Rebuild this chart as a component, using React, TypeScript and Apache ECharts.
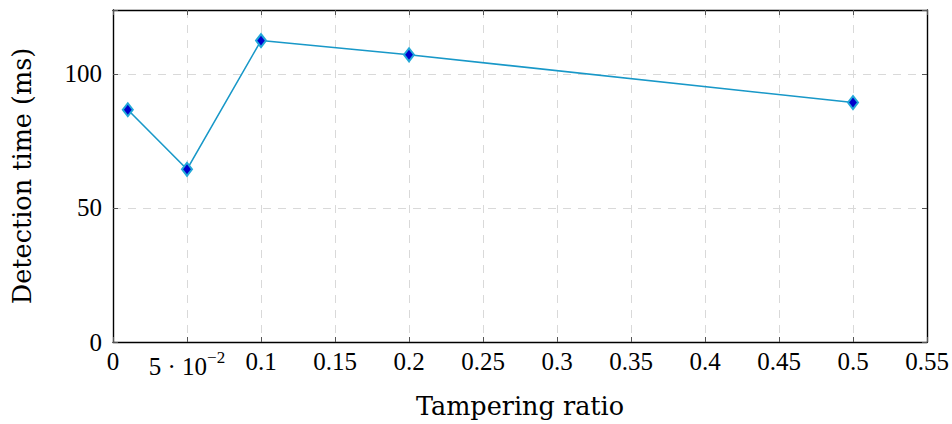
import React, { useEffect, useRef } from "react";
import * as echarts from "echarts";

const xValues = [0.01, 0.05, 0.1, 0.2, 0.5];
const detectionTime = [86.6, 64.4, 112.4, 107.1, 89.3];
const xTickLabels: Record<string, string> = {
  "0": "0",
  "0.05": "{b|5 · 10}{s|−2}",
  "0.1": "0.1",
  "0.15": "0.15",
  "0.2": "0.2",
  "0.25": "0.25",
  "0.3": "0.3",
  "0.35": "0.35",
  "0.4": "0.4",
  "0.45": "0.45",
  "0.5": "0.5",
  "0.55": "0.55",
};
const yTickLabels = [0, 50, 100];

const TICK_FONT = "'Liberation Serif', 'DejaVu Serif', serif";
const NAME_FONT = "'DejaVu Serif', 'Liberation Serif', serif";

export default function App() {
  const ref = useRef<HTMLDivElement>(null);
  useEffect(() => {
    if (!ref.current) return;
    const chart = echarts.init(ref.current, null, { renderer: "svg" });
    const axisLine = { show: true, onZero: false, lineStyle: { color: "#000", width: 1.4 } };
    const tick = { show: true, inside: true, length: 5, lineStyle: { color: "#555", width: 1 } };
    const split = { show: true, lineStyle: { color: "#d9d9d9", type: [8, 7] as any, width: 1 } };
    chart.setOption({
      animation: false,
      backgroundColor: "#fff",
      grid: { left: 113, right: 25, top: 10, bottom: 80.5 },
      xAxis: [
        {
          type: "value",
          min: 0,
          max: 0.55,
          interval: 0.05,
          position: "bottom",
          name: "Tampering ratio",
          nameLocation: "middle",
          nameGap: 51,
          nameTextStyle: { fontFamily: NAME_FONT, fontSize: 25.5, color: "#000", verticalAlign: "top" },
          axisLine,
          axisTick: tick,
          splitLine: split,
          axisLabel: {
            margin: 7,
            fontFamily: TICK_FONT,
            fontSize: 25,
            color: "#000",
            verticalAlign: "top",
            formatter: (v: number) => {
              const k = String(Math.round(v * 100) / 100);
              return xTickLabels[k] ?? "";
            },
            rich: {
              b: { fontFamily: TICK_FONT, fontSize: 25, color: "#000", padding: [5, 0, 0, 0] },
              s: { fontFamily: TICK_FONT, fontSize: 17, color: "#000", verticalAlign: "top" },
            },
          },
        },
        {
          type: "value",
          min: 0,
          max: 0.55,
          interval: 0.05,
          position: "top",
          axisLine,
          axisTick: tick,
          splitLine: { show: false },
          axisLabel: { show: false },
        },
      ],
      yAxis: [
        {
          type: "value",
          min: 0,
          max: 123.8,
          interval: 50,
          position: "left",
          name: "Detection time (ms)",
          nameLocation: "middle",
          nameGap: 78,
          nameRotate: 90,
          nameTextStyle: { fontFamily: NAME_FONT, fontSize: 25.5, color: "#000" },
          axisLine,
          axisTick: tick,
          splitLine: split,
          axisLabel: {
            margin: 11,
            fontFamily: TICK_FONT,
            fontSize: 25,
            color: "#000",
            formatter: (v: number) => (yTickLabels.includes(v) ? String(v) : ""),
          },
        },
        {
          type: "value",
          min: 0,
          max: 123.8,
          interval: 50,
          position: "right",
          axisLine,
          axisTick: tick,
          splitLine: { show: false },
          axisLabel: { show: false },
        },
      ],
      series: [
        {
          type: "line",
          data: xValues.map((x, i) => [x, detectionTime[i]]),
          symbol: "diamond",
          symbolSize: [10, 13],
          lineStyle: { color: "#1898c8", width: 1.6 },
          itemStyle: { color: "#0000cc", borderColor: "#22a8d8", borderWidth: 2 },
          z: 5,
        },
      ],
    });
    return () => chart.dispose();
  }, []);
  return (
    <div
      ref={ref}
      style={{ position: "absolute", left: 0, top: 0, width: 952, height: 424 }}
    />
  );
}
